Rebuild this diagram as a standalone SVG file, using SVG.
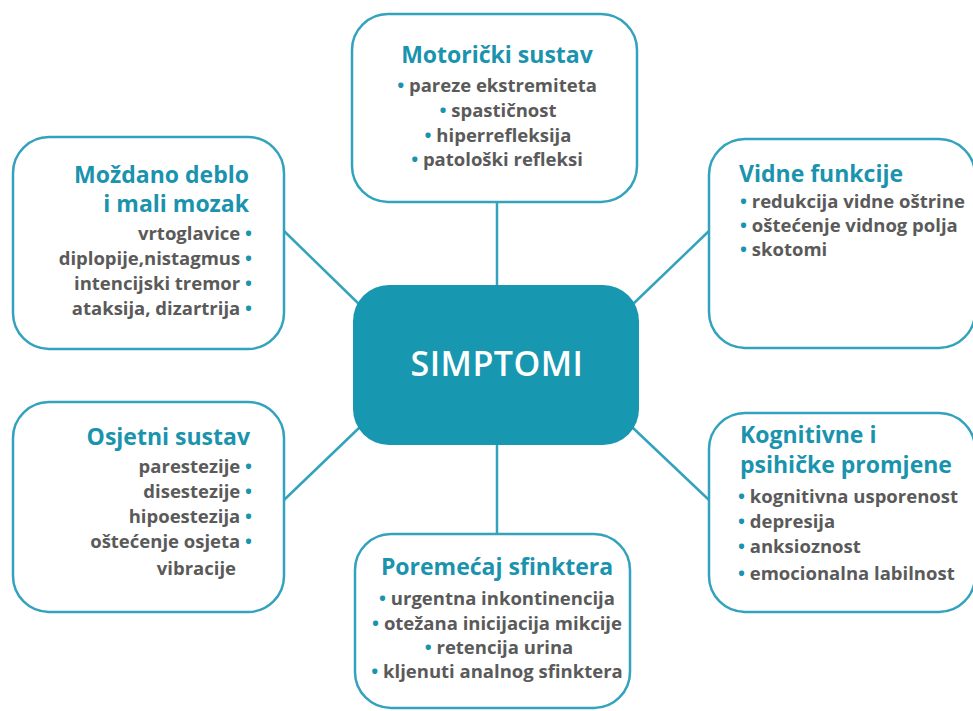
<svg xmlns="http://www.w3.org/2000/svg" width="973" height="711" viewBox="0 0 973 711">
<style>
.box{fill:#ffffff;stroke:#33a3bd;stroke-width:2.5}
.ln{stroke:#33a3bd;stroke-width:2.5;fill:none}
.t{font-family:"Open Sans",Lato,sans-serif;font-weight:700;font-size:23px;fill:#1a93ae}
.i{font-family:"Open Sans",Lato,sans-serif;font-weight:700;font-size:18.5px;fill:#5a5a5a}
.b{fill:#1a93ae}
.c{text-anchor:middle}
.e{text-anchor:end}
.main{font-family:"Open Sans",Lato,sans-serif;font-weight:600;font-size:34px;letter-spacing:0.5px;fill:#ffffff;text-anchor:middle}
</style>
<rect width="973" height="711" fill="#ffffff"/>
<g id="connectors">
<line class="ln" x1="497" y1="202" x2="497" y2="286"/>
<line class="ln" x1="497" y1="444" x2="497" y2="534"/>
<line class="ln" x1="284" y1="231" x2="362" y2="307"/>
<line class="ln" x1="709" y1="231" x2="632" y2="305"/>
<line class="ln" x1="360" y1="427" x2="284" y2="500"/>
<line class="ln" x1="632" y1="427" x2="709" y2="500"/>
</g>
<g id="simptomi">
<rect x="353" y="285" width="286" height="160" rx="36" fill="#1797b0"/>
<text class="main" x="497" y="376">SIMPTOMI</text>
</g>
<g id="motoricki">
<rect class="box" x="352" y="14" width="285" height="188" rx="36"/>
<text class="t c" x="497" y="63">Motorički sustav</text>
<text class="i c" x="497" y="92"><tspan class="b">•</tspan> pareze ekstremiteta</text>
<text class="i c" x="498" y="117"><tspan class="b">•</tspan> spastičnost</text>
<text class="i c" x="498" y="142"><tspan class="b">•</tspan> hiperrefleksija</text>
<text class="i c" x="497" y="166"><tspan class="b">•</tspan> patološki refleksi</text>
</g>
<g id="mozdano">
<rect class="box" x="13" y="137" width="271" height="212" rx="36"/>
<text class="t e" x="249" y="183">Moždano deblo</text>
<text class="t e" x="249" y="212">i mali mozak</text>
<text class="i e" x="252" y="240">vrtoglavice <tspan class="b">•</tspan></text>
<text class="i e" x="252" y="265">diplopije,nistagmus <tspan class="b">•</tspan></text>
<text class="i e" x="252" y="290">intencijski tremor <tspan class="b">•</tspan></text>
<text class="i e" x="252" y="315">ataksija, dizartrija <tspan class="b">•</tspan></text>
</g>
<g id="vidne">
<rect class="box" x="709" y="139" width="266" height="209" rx="36"/>
<text class="t" x="739" y="182">Vidne funkcije</text>
<text class="i" x="740" y="208"><tspan class="b">•</tspan> redukcija vidne oštrine</text>
<text class="i" x="740" y="232"><tspan class="b">•</tspan> oštećenje vidnog polja</text>
<text class="i" x="740" y="256"><tspan class="b">•</tspan> skotomi</text>
</g>
<g id="osjetni">
<rect class="box" x="13" y="402" width="271" height="210" rx="36"/>
<text class="t e" x="250" y="445">Osjetni sustav</text>
<text class="i e" x="252" y="473">parestezije <tspan class="b">•</tspan></text>
<text class="i e" x="252" y="498">disestezije <tspan class="b">•</tspan></text>
<text class="i e" x="252" y="523">hipoestezija <tspan class="b">•</tspan></text>
<text class="i e" x="252" y="548">oštećenje osjeta <tspan class="b">•</tspan></text>
<text class="i e" x="236" y="575">vibracije</text>
</g>
<g id="kognitivne">
<rect class="box" x="709" y="413" width="266" height="199" rx="36"/>
<text class="t" x="740" y="443">Kognitivne i</text>
<text class="t" x="740" y="473">psihičke promjene</text>
<text class="i" x="738" y="503"><tspan class="b">•</tspan> kognitivna usporenost</text>
<text class="i" x="738" y="528"><tspan class="b">•</tspan> depresija</text>
<text class="i" x="738" y="553"><tspan class="b">•</tspan> anksioznost</text>
<text class="i" x="738" y="580"><tspan class="b">•</tspan> emocionalna labilnost</text>
</g>
<g id="poremecaj">
<rect class="box" x="355" y="534" width="275" height="174" rx="36"/>
<text class="t c" x="497" y="575">Poremećaj sfinktera</text>
<text class="i c" x="497" y="605"><tspan class="b">•</tspan> urgentna inkontinencija</text>
<text class="i c" x="497" y="630"><tspan class="b">•</tspan> otežana inicijacija mikcije</text>
<text class="i c" x="499" y="654"><tspan class="b">•</tspan> retencija urina</text>
<text class="i c" x="497" y="678"><tspan class="b">•</tspan> kljenuti analnog sfinktera</text>
</g>
</svg>
